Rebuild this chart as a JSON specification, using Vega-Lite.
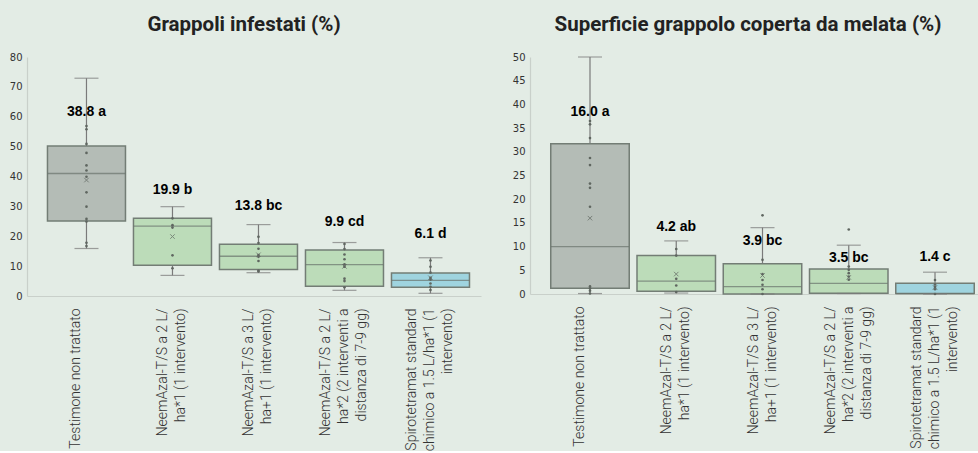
{
  "$schema": "https://vega.github.io/schema/vega-lite/v6.json",
  "background": "#e3ece5",
  "padding": {"left": 5, "right": 0, "top": 14, "bottom": 0},
  "spacing": 27,
  "config": {
    "view": {"stroke": null},
    "axis": {"grid": false, "ticks": false, "tickSize": 0, "domainColor": "#c9d0ca", "domainWidth": 1.2, "labelOverlap": false},
    "axisY": {"labelFont": "DejaVu Sans", "labelFontSize": 10, "labelColor": "#333333", "labelPadding": 5, "minExtent": 22, "maxExtent": 22, "title": null},
    "axisX": {"labelFont": "Roboto", "labelFontWeight": 300, "labelFontSize": 14, "labelColor": "#333333", "labelAngle": -90, "labelPadding": 12, "labelLineHeight": 18, "labelLimit": 300, "title": null,
              "labelOffset": {"condition": [{"test": "length(split(datum.value, '|')) == 3", "value": -18}, {"test": "length(split(datum.value, '|')) == 2", "value": -9}], "value": -10}},
    "title": {"font": "Roboto", "fontWeight": "bold", "fontSize": 20.5, "color": "#222222", "offset": 17}
  },
  "datasets": {
    "s1": [
      {"cat": "Testimone non trattato", "grp": "ctrl", "wlo": 15.9, "q1": 25.1, "med": 41.0, "q3": 50.2, "whi": 72.9, "mean": 38.8, "label": "38.8 a", "label_y": 61.6},
      {"cat": "NeemAzal-T/S a 2 L/|ha*1 (1 intervento)", "grp": "neem", "wlo": 6.9, "q1": 10.3, "med": 23.4, "q3": 26.0, "whi": 29.9, "mean": 19.9, "label": "19.9 b", "label_y": 35.5},
      {"cat": "NeemAzal-T/S a 3 L/|ha+1 (1 intervento)", "grp": "neem", "wlo": 7.8, "q1": 8.9, "med": 13.3, "q3": 17.3, "whi": 23.9, "mean": 13.8, "label": "13.8 bc", "label_y": 30.1},
      {"cat": "NeemAzal-T/S a 2 L/|ha*2 (2 interventi a|distanza di 7-9 gg)", "grp": "neem", "wlo": 1.9, "q1": 3.3, "med": 10.5, "q3": 15.4, "whi": 17.9, "mean": 9.9, "label": "9.9 cd", "label_y": 24.7},
      {"cat": "Spirotetramat standard|chimico a 1.5 L/ha*1 (1|intervento)", "grp": "chem", "wlo": 0.9, "q1": 2.9, "med": 5.2, "q3": 7.7, "whi": 12.8, "mean": 6.1, "label": "6.1 d", "label_y": 20.6}
    ],
    "p1": [
      {"cat": "Testimone non trattato", "v": 56.9}, {"cat": "Testimone non trattato", "v": 55.8}, {"cat": "Testimone non trattato", "v": 50.9}, {"cat": "Testimone non trattato", "v": 47.9}, {"cat": "Testimone non trattato", "v": 43.7}, {"cat": "Testimone non trattato", "v": 42.0}, {"cat": "Testimone non trattato", "v": 39.9}, {"cat": "Testimone non trattato", "v": 34.7}, {"cat": "Testimone non trattato", "v": 29.9}, {"cat": "Testimone non trattato", "v": 25.8}, {"cat": "Testimone non trattato", "v": 24.9}, {"cat": "Testimone non trattato", "v": 17.8}, {"cat": "Testimone non trattato", "v": 16.7},
      {"cat": "NeemAzal-T/S a 2 L/|ha*1 (1 intervento)", "v": 26.0}, {"cat": "NeemAzal-T/S a 2 L/|ha*1 (1 intervento)", "v": 23.7}, {"cat": "NeemAzal-T/S a 2 L/|ha*1 (1 intervento)", "v": 22.9}, {"cat": "NeemAzal-T/S a 2 L/|ha*1 (1 intervento)", "v": 13.6}, {"cat": "NeemAzal-T/S a 2 L/|ha*1 (1 intervento)", "v": 9.3},
      {"cat": "NeemAzal-T/S a 3 L/|ha+1 (1 intervento)", "v": 19.8}, {"cat": "NeemAzal-T/S a 3 L/|ha+1 (1 intervento)", "v": 17.7}, {"cat": "NeemAzal-T/S a 3 L/|ha+1 (1 intervento)", "v": 15.8}, {"cat": "NeemAzal-T/S a 3 L/|ha+1 (1 intervento)", "v": 13.7}, {"cat": "NeemAzal-T/S a 3 L/|ha+1 (1 intervento)", "v": 13.1}, {"cat": "NeemAzal-T/S a 3 L/|ha+1 (1 intervento)", "v": 11.7}, {"cat": "NeemAzal-T/S a 3 L/|ha+1 (1 intervento)", "v": 8.5}, {"cat": "NeemAzal-T/S a 3 L/|ha+1 (1 intervento)", "v": 8.2},
      {"cat": "NeemAzal-T/S a 2 L/|ha*2 (2 interventi a|distanza di 7-9 gg)", "v": 17.4}, {"cat": "NeemAzal-T/S a 2 L/|ha*2 (2 interventi a|distanza di 7-9 gg)", "v": 15.7}, {"cat": "NeemAzal-T/S a 2 L/|ha*2 (2 interventi a|distanza di 7-9 gg)", "v": 13.9}, {"cat": "NeemAzal-T/S a 2 L/|ha*2 (2 interventi a|distanza di 7-9 gg)", "v": 12.3}, {"cat": "NeemAzal-T/S a 2 L/|ha*2 (2 interventi a|distanza di 7-9 gg)", "v": 10.6}, {"cat": "NeemAzal-T/S a 2 L/|ha*2 (2 interventi a|distanza di 7-9 gg)", "v": 9.8}, {"cat": "NeemAzal-T/S a 2 L/|ha*2 (2 interventi a|distanza di 7-9 gg)", "v": 5.8}, {"cat": "NeemAzal-T/S a 2 L/|ha*2 (2 interventi a|distanza di 7-9 gg)", "v": 5.0}, {"cat": "NeemAzal-T/S a 2 L/|ha*2 (2 interventi a|distanza di 7-9 gg)", "v": 2.9},
      {"cat": "Spirotetramat standard|chimico a 1.5 L/ha*1 (1|intervento)", "v": 11.9}, {"cat": "Spirotetramat standard|chimico a 1.5 L/ha*1 (1|intervento)", "v": 9.8}, {"cat": "Spirotetramat standard|chimico a 1.5 L/ha*1 (1|intervento)", "v": 7.8}, {"cat": "Spirotetramat standard|chimico a 1.5 L/ha*1 (1|intervento)", "v": 6.1}, {"cat": "Spirotetramat standard|chimico a 1.5 L/ha*1 (1|intervento)", "v": 5.5}, {"cat": "Spirotetramat standard|chimico a 1.5 L/ha*1 (1|intervento)", "v": 4.2}, {"cat": "Spirotetramat standard|chimico a 1.5 L/ha*1 (1|intervento)", "v": 3.1}, {"cat": "Spirotetramat standard|chimico a 1.5 L/ha*1 (1|intervento)", "v": 2.0}
    ],
    "s2": [
      {"cat": "Testimone non trattato", "grp": "ctrl", "wlo": 0.1, "q1": 1.2, "med": 10.0, "q3": 31.7, "whi": 50.0, "mean": 16.0, "label": "16.0 a", "label_y": 38.4},
      {"cat": "NeemAzal-T/S a 2 L/|ha*1 (1 intervento)", "grp": "neem", "wlo": 0.2, "q1": 0.6, "med": 2.7, "q3": 8.1, "whi": 11.2, "mean": 4.2, "label": "4.2 ab", "label_y": 14.2},
      {"cat": "NeemAzal-T/S a 3 L/|ha+1 (1 intervento)", "grp": "neem", "wlo": 0.0, "q1": 0.0, "med": 1.55, "q3": 6.4, "whi": 14.0, "mean": 3.9, "label": "3.9 bc", "label_y": 11.2},
      {"cat": "NeemAzal-T/S a 2 L/|ha*2 (2 interventi a|distanza di 7-9 gg)", "grp": "neem", "wlo": 0.1, "q1": 0.15, "med": 2.25, "q3": 5.3, "whi": 10.3, "mean": 3.5, "label": "3.5 bc", "label_y": 7.5},
      {"cat": "Spirotetramat standard|chimico a 1.5 L/ha*1 (1|intervento)", "grp": "chem", "wlo": 0.0, "q1": 0.1, "med": 0.1, "q3": 2.25, "whi": 4.6, "mean": 1.4, "label": "1.4 c", "label_y": 7.9}
    ],
    "p2": [
      {"cat": "Testimone non trattato", "v": 36.5}, {"cat": "Testimone non trattato", "v": 35.8}, {"cat": "Testimone non trattato", "v": 32.9}, {"cat": "Testimone non trattato", "v": 28.7}, {"cat": "Testimone non trattato", "v": 27.2}, {"cat": "Testimone non trattato", "v": 23.3}, {"cat": "Testimone non trattato", "v": 22.4}, {"cat": "Testimone non trattato", "v": 18.4}, {"cat": "Testimone non trattato", "v": 1.6}, {"cat": "Testimone non trattato", "v": 1.2}, {"cat": "Testimone non trattato", "v": 0.7}, {"cat": "Testimone non trattato", "v": 0.1},
      {"cat": "NeemAzal-T/S a 2 L/|ha*1 (1 intervento)", "v": 9.5}, {"cat": "NeemAzal-T/S a 2 L/|ha*1 (1 intervento)", "v": 8.1}, {"cat": "NeemAzal-T/S a 2 L/|ha*1 (1 intervento)", "v": 3.2}, {"cat": "NeemAzal-T/S a 2 L/|ha*1 (1 intervento)", "v": 1.8}, {"cat": "NeemAzal-T/S a 2 L/|ha*1 (1 intervento)", "v": 0.4},
      {"cat": "NeemAzal-T/S a 3 L/|ha+1 (1 intervento)", "v": 16.6}, {"cat": "NeemAzal-T/S a 3 L/|ha+1 (1 intervento)", "v": 7.2}, {"cat": "NeemAzal-T/S a 3 L/|ha+1 (1 intervento)", "v": 4.2}, {"cat": "NeemAzal-T/S a 3 L/|ha+1 (1 intervento)", "v": 2.95}, {"cat": "NeemAzal-T/S a 3 L/|ha+1 (1 intervento)", "v": 1.96}, {"cat": "NeemAzal-T/S a 3 L/|ha+1 (1 intervento)", "v": 1.0}, {"cat": "NeemAzal-T/S a 3 L/|ha+1 (1 intervento)", "v": 0.0},
      {"cat": "NeemAzal-T/S a 2 L/|ha*2 (2 interventi a|distanza di 7-9 gg)", "v": 13.6}, {"cat": "NeemAzal-T/S a 2 L/|ha*2 (2 interventi a|distanza di 7-9 gg)", "v": 5.8}, {"cat": "NeemAzal-T/S a 2 L/|ha*2 (2 interventi a|distanza di 7-9 gg)", "v": 5.1}, {"cat": "NeemAzal-T/S a 2 L/|ha*2 (2 interventi a|distanza di 7-9 gg)", "v": 4.4}, {"cat": "NeemAzal-T/S a 2 L/|ha*2 (2 interventi a|distanza di 7-9 gg)", "v": 3.7}, {"cat": "NeemAzal-T/S a 2 L/|ha*2 (2 interventi a|distanza di 7-9 gg)", "v": 3.0},
      {"cat": "Spirotetramat standard|chimico a 1.5 L/ha*1 (1|intervento)", "v": 2.95}, {"cat": "Spirotetramat standard|chimico a 1.5 L/ha*1 (1|intervento)", "v": 2.0}, {"cat": "Spirotetramat standard|chimico a 1.5 L/ha*1 (1|intervento)", "v": 1.5}, {"cat": "Spirotetramat standard|chimico a 1.5 L/ha*1 (1|intervento)", "v": 1.0}, {"cat": "Spirotetramat standard|chimico a 1.5 L/ha*1 (1|intervento)", "v": 0.0}
    ]
  },
  "hconcat": [
    {
      "width": 454,
      "height": 239,
      "title": {"text": "Grappoli infestati (%)", "dx": -10},
      "encoding": {
        "x": {"field": "cat", "type": "nominal", "sort": null,
              "scale": {"paddingInner": 0.093, "paddingOuter": 0.186, "align": 0.64},
              "axis": {"labelExpr": "split(datum.value, '|')"}}
      },
      "layer": [
        {"data": {"name": "s1"}, "mark": {"type": "rule", "color": "#7a7a7a", "strokeWidth": 1.2},
         "encoding": {"y": {"field": "wlo", "type": "quantitative", "scale": {"domain": [0, 80]}, "axis": {"values": [0, 10, 20, 30, 40, 50, 60, 70, 80]}}, "y2": {"field": "whi"}}},
        {"data": {"name": "s1"}, "mark": {"type": "bar", "stroke": "#737d75", "strokeWidth": 1.5},
         "encoding": {"y": {"field": "q1", "type": "quantitative", "axis": {"values": [0, 10, 20, 30, 40, 50, 60, 70, 80]}}, "y2": {"field": "q3"},
                      "fill": {"field": "grp", "type": "nominal", "scale": {"domain": ["ctrl", "neem", "chem"], "range": ["#b4bcb6", "#bcdcb9", "#9fd4df"]}, "legend": null}}},
        {"data": {"name": "s1"}, "mark": {"type": "tick", "size": 78, "thickness": 1.3, "color": "#6a736c"},
         "encoding": {"y": {"field": "med", "type": "quantitative", "axis": {"values": [0, 10, 20, 30, 40, 50, 60, 70, 80]}}}},
        {"data": {"name": "s1"}, "mark": {"type": "tick", "size": 24, "thickness": 1.2, "color": "#7a7a7a"},
         "encoding": {"y": {"field": "whi", "type": "quantitative", "axis": {"values": [0, 10, 20, 30, 40, 50, 60, 70, 80]}}}},
        {"data": {"name": "s1"}, "mark": {"type": "tick", "size": 24, "thickness": 1.2, "color": "#7a7a7a"},
         "encoding": {"y": {"field": "wlo", "type": "quantitative", "axis": {"values": [0, 10, 20, 30, 40, 50, 60, 70, 80]}}}},
        {"data": {"name": "p1"}, "mark": {"type": "point", "filled": true, "size": 7, "color": "#5f6660", "opacity": 1},
         "encoding": {"y": {"field": "v", "type": "quantitative", "axis": {"values": [0, 10, 20, 30, 40, 50, 60, 70, 80]}}}},
        {"data": {"name": "s1"}, "mark": {"type": "point", "shape": "M-1,-1L1,1M-1,1L1,-1", "filled": false, "size": 20, "color": "#5f6660", "strokeWidth": 1},
         "encoding": {"y": {"field": "mean", "type": "quantitative", "axis": {"values": [0, 10, 20, 30, 40, 50, 60, 70, 80]}}}},
        {"data": {"name": "s1"}, "mark": {"type": "text", "font": "Liberation Sans", "fontWeight": "bold", "fontSize": 14, "color": "#000000", "baseline": "middle"},
         "encoding": {"y": {"field": "label_y", "type": "quantitative", "axis": {"values": [0, 10, 20, 30, 40, 50, 60, 70, 80]}}, "text": {"field": "label"}}}
      ]
    },
    {
      "width": 448,
      "height": 237,
      "title": {"text": "Superficie grappolo coperta da melata (%)", "dx": -6},
      "encoding": {
        "x": {"field": "cat", "type": "nominal", "sort": null,
              "scale": {"paddingInner": 0.09, "paddingOuter": 0.142, "align": 0.847},
              "axis": {"labelExpr": "split(datum.value, '|')"}}
      },
      "layer": [
        {"data": {"name": "s2"}, "mark": {"type": "rule", "color": "#7a7a7a", "strokeWidth": 1.2},
         "encoding": {"y": {"field": "wlo", "type": "quantitative", "scale": {"domain": [0, 50]}, "axis": {"values": [0, 5, 10, 15, 20, 25, 30, 35, 40, 45, 50]}}, "y2": {"field": "whi"}}},
        {"data": {"name": "s2"}, "mark": {"type": "bar", "stroke": "#737d75", "strokeWidth": 1.5},
         "encoding": {"y": {"field": "q1", "type": "quantitative", "axis": {"values": [0, 5, 10, 15, 20, 25, 30, 35, 40, 45, 50]}}, "y2": {"field": "q3"},
                      "fill": {"field": "grp", "type": "nominal", "scale": {"domain": ["ctrl", "neem", "chem"], "range": ["#b4bcb6", "#bcdcb9", "#9fd4df"]}, "legend": null}}},
        {"data": {"name": "s2"}, "mark": {"type": "tick", "size": 78, "thickness": 1.3, "color": "#6a736c"},
         "encoding": {"y": {"field": "med", "type": "quantitative", "axis": {"values": [0, 5, 10, 15, 20, 25, 30, 35, 40, 45, 50]}}}},
        {"data": {"name": "s2"}, "mark": {"type": "tick", "size": 24, "thickness": 1.2, "color": "#7a7a7a"},
         "encoding": {"y": {"field": "whi", "type": "quantitative", "axis": {"values": [0, 5, 10, 15, 20, 25, 30, 35, 40, 45, 50]}}}},
        {"data": {"name": "s2"}, "mark": {"type": "tick", "size": 24, "thickness": 1.2, "color": "#7a7a7a"},
         "encoding": {"y": {"field": "wlo", "type": "quantitative", "axis": {"values": [0, 5, 10, 15, 20, 25, 30, 35, 40, 45, 50]}}}},
        {"data": {"name": "p2"}, "mark": {"type": "point", "filled": true, "size": 7, "color": "#5f6660", "opacity": 1},
         "encoding": {"y": {"field": "v", "type": "quantitative", "axis": {"values": [0, 5, 10, 15, 20, 25, 30, 35, 40, 45, 50]}}}},
        {"data": {"name": "s2"}, "mark": {"type": "point", "shape": "M-1,-1L1,1M-1,1L1,-1", "filled": false, "size": 20, "color": "#5f6660", "strokeWidth": 1},
         "encoding": {"y": {"field": "mean", "type": "quantitative", "axis": {"values": [0, 5, 10, 15, 20, 25, 30, 35, 40, 45, 50]}}}},
        {"data": {"name": "s2"}, "mark": {"type": "text", "font": "Liberation Sans", "fontWeight": "bold", "fontSize": 14, "color": "#000000", "baseline": "middle"},
         "encoding": {"y": {"field": "label_y", "type": "quantitative", "axis": {"values": [0, 5, 10, 15, 20, 25, 30, 35, 40, 45, 50]}}, "text": {"field": "label"}}}
      ]
    }
  ]
}
